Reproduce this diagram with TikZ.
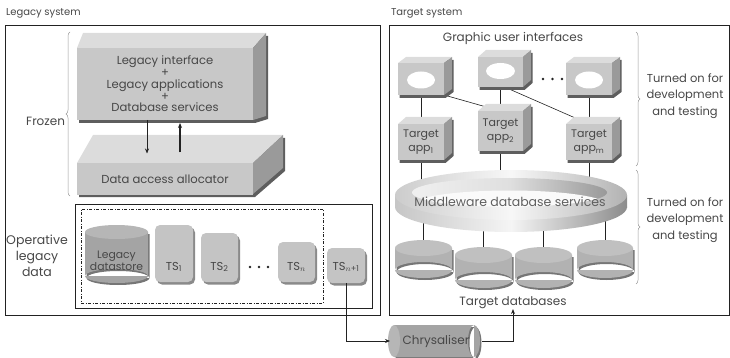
\documentclass[tikz,border=0pt]{standalone}
\usepackage{fontspec}
\setmainfont{Poppins}
\usetikzlibrary{arrows.meta,decorations.pathreplacing,backgrounds}
\definecolor{frontc}{HTML}{C8C8C8}
\definecolor{topc}{HTML}{DCDCDC}
\definecolor{sidec}{HTML}{9A9A9A}
\definecolor{shadc}{HTML}{5E5E5E}
\definecolor{tsc}{HTML}{C4C4C4}
\definecolor{tsshad}{HTML}{8A8A8A}
\definecolor{dbbody}{HTML}{B2B2B2}
\definecolor{dbtop}{HTML}{C0C0C0}
\definecolor{ldsbody}{HTML}{A4A4A4}
\definecolor{ldstop}{HTML}{B6B6B6}
\definecolor{txt}{HTML}{474747}
\definecolor{linec}{HTML}{222222}
\newcommand\tdbox[8]{%
  \pgfmathsetmacro\bxA{#2-#4/2}\pgfmathsetmacro\bxB{#2+#4/2}%
  \pgfmathsetmacro\byA{#3-#5/2}\pgfmathsetmacro\byB{#3+#5/2}%
  \pgfmathsetmacro\bxC{\bxA+#6}\pgfmathsetmacro\bxD{\bxB+#6}%
  \pgfmathsetmacro\byC{\byA-#7}\pgfmathsetmacro\byD{\byB-#7}%
  \fill[shadc,shift={(1.5,3)}] (\bxA,\byB) -- (\bxA,\byA) -- (\bxC,\byC) -- (\bxD,\byC) -- (\bxD,\byD) -- (\bxB,\byB) -- cycle;
  \fill[topc] (\bxA,\byA) -- (\bxC,\byC) -- (\bxD,\byC) -- (\bxB,\byA) -- cycle;
  \fill[sidec] (\bxB,\byA) -- (\bxD,\byC) -- (\bxD,\byD) -- (\bxB,\byB) -- cycle;
  \node[facebox, minimum width=#4pt, minimum height=#5pt] (#1) at (#2,#3) {#8};
}
\newcommand\vcyl[9]{%
  \pgfmathsetmacro\cyX{(#2+#3)/2}\pgfmathsetmacro\cyR{(#3-#2)/2}%
  \pgfmathsetmacro\cyY{(#4+#5)/2}\pgfmathsetmacro\cyW{#3-#2}\pgfmathsetmacro\cyH{#5-#4}%
  \fill[shadc!85] (#2+1.5,#4+#6+2) rectangle (#3+1.5,#5-#6+2) (\cyX+1.5,#5-#6+2) ellipse[x radius=\cyR, y radius=#6];
  \fill[#7] (#2,#4+#6) rectangle (#3,#5-#6) (\cyX,#5-#6) ellipse[x radius=\cyR, y radius=#6];
  \fill[#8] (\cyX,#4+#6) ellipse[x radius=\cyR, y radius=#6];
  \node[facebox, fill=none, minimum width=\cyW pt, minimum height=\cyH pt] (#1) at (\cyX,\cyY) {#9};
}
\newcommand\tsbox[5]{%
  \fill[tsshad, rounded corners=5pt] ({#2-#4/2+2},{#3-#5/2+2.5}) rectangle ({#2+#4/2+2},{#3+#5/2+2.5});
  \node[tsnode, minimum width=#4pt, minimum height=#5pt] (#1) at (#2,#3) {};
}
\begin{document}
\begin{tikzpicture}[x=1pt,y=-1pt,
  lbl/.style={text=txt, font=\fontsize{10}{12}\selectfont, inner sep=0pt, outer sep=0pt},
  facebox/.style={fill=frontc, inner sep=0pt, outer sep=0pt, text=txt, align=center,
    font=\fontsize{11}{14}\selectfont},
  tsnode/.style={fill=tsc, rounded corners=5pt, inner sep=0pt, outer sep=0pt},
  frame/.style={draw=linec, line width=0.9pt, inner sep=0pt, outer sep=0pt, anchor=north west},
  brc/.style={draw=gray!80, line width=0.5pt, decorate, decoration={brace, amplitude=4pt}},
  arr/.style={draw=linec, line width=0.8pt, -{Stealth[length=5pt,width=4pt]}},
  conn/.style={draw=linec, line width=0.8pt}]
\useasboundingbox (0,0) rectangle (730,358);

% titles and frames
\node[lbl, anchor=west] (ltitle) at (6,13) {Legacy system};
\node[lbl, anchor=west] (rtitle) at (391,13) {Target system};
\node[frame, minimum width=375pt, minimum height=290pt] (lbox) at (5,25) {};
\node[frame, minimum width=340pt, minimum height=290pt] (rbox) at (389,25) {};
\node[frame, minimum width=297pt, minimum height=104pt] (opbox) at (75,204) {};
\node[frame, line width=0.8pt, dash pattern=on 3pt off 1.5pt on 1pt off 1.5pt,
  minimum width=242pt, minimum height=94pt] (dbox) at (81,209) {};

% upper legacy block
\fill[shadc,shift={(2,3)}] (77,120) -- (77,48) -- (83,33) -- (266,33) -- (266,116) -- (253,120) -- cycle;
\fill[topc] (77,48) -- (83,33) -- (266,33) -- (253,48) -- cycle;
\fill[sidec] (253,48) -- (266,33) -- (266,116) -- (253,120) -- cycle;
\node[facebox, minimum width=176pt, minimum height=72pt, font=\fontsize{11.6}{11.8}\selectfont] (li) at (165,84)
  {Legacy interface\\+\\Legacy applications\\+\\Database services};

% lower legacy block
\fill[shadc,shift={(2,3)}] (77,194) -- (77,163) -- (93,135) -- (283,135) -- (283,168) -- (253,194) -- cycle;
\fill[topc] (77,163) -- (93,135) -- (283,135) -- (253,163) -- cycle;
\fill[sidec] (253,163) -- (283,135) -- (283,168) -- (253,194) -- cycle;
\node[facebox, minimum width=176pt, minimum height=31pt, font=\fontsize{11.6}{12}\selectfont] (daa) at (165,179) {Data access allocator};

\draw[arr, line width=0.6pt, shorten >=10pt] ([xshift=-18pt]li.south) -- ([xshift=-18pt]daa.north);
\draw[arr, line width=1.1pt, shorten <=11pt, shorten >=3pt] ([xshift=15pt]daa.north) -- ([xshift=15pt]li.south);

% frozen brace
\draw[brc] (70,196) -- (70,32);
\node[lbl, anchor=east, font=\fontsize{12}{14}\selectfont] (frozen) at (65,121) {Frozen};
\node[lbl, align=center, font=\fontsize{12.5}{16}\selectfont] (opl) at (37,256) {Operative\\legacy\\data};

% legacy data stores
\vcyl{lds}{85}{148}{225}{283}{7}{ldsbody}{ldstop}{}
\node[lbl, align=center, font=\fontsize{10.8}{12.5}\selectfont] (ldstxt) at (116.5,261) {Legacy\\datastore};
\tsbox{ts1}{174}{253.5}{38}{57}
\tsbox{ts2}{219.5}{257.5}{37}{49}
\tsbox{tsn}{296.5}{262}{37}{40}
\tsbox{tsnn}{346}{265.5}{38}{35}
\node[lbl, font=\fontsize{11.5}{12}\selectfont] (ts1t) at ([yshift=15pt]ts1.south) {TS\textsubscript{1}};
\node[lbl, font=\fontsize{11.5}{12}\selectfont] (ts2t) at ([yshift=15pt]ts2.south) {TS\textsubscript{2}};
\node[lbl, font=\fontsize{11.5}{12}\selectfont] (tsnt) at ([yshift=15pt]tsn.south) {TS\textsubscript{$n$}};
\node[lbl, font=\fontsize{11.5}{12}\selectfont] (tsnnt) at ([yshift=16pt]tsnn.south) {TS\textsubscript{$n$+1}};
\foreach \dx in {250,259,268} \fill[linec] (\dx,267) circle[radius=1.3];

% chrysaliser
\fill[shadc!85] (395.5,327) rectangle (475.5,359) (475.5,343) ellipse[x radius=6, y radius=16];
\fill[ldsbody] (394,325) rectangle (474,357) (474,341) ellipse[x radius=6, y radius=16];
\fill[ldstop] (394,341) ellipse[x radius=6, y radius=16];
\node[lbl, minimum width=92pt, minimum height=32pt, font=\fontsize{12}{14}\selectfont] (chry) at (436,341) {Chrysaliser};

% GUI boxes
\node[lbl, font=\fontsize{12}{14}\selectfont] (gui) at (513,38) {Graphic user interfaces};
\tdbox{gui1}{421}{79}{46}{32}{8}{6}{}
\tdbox{gui2}{500.5}{72}{45}{30}{8}{7}{}
\tdbox{gui3}{589}{79}{46}{32}{8}{6}{}
\fill[white] (421,80) ellipse[x radius=14, y radius=8.5];
\fill[white] (500.5,71) ellipse[x radius=14.5, y radius=8];
\fill[white] (589,80) ellipse[x radius=14, y radius=8.5];
\foreach \dx in {543,552.5,562} \fill[linec] (\dx,79) circle[radius=1.3];

% target apps
\tdbox{app1}{421}{142}{46}{36}{8}{7}{Target\\app\textsubscript{1}}
\tdbox{app2}{500.5}{131}{45}{40}{8}{7}{Target\\app\textsubscript{2}}
\tdbox{appm}{589}{142}{46}{36}{8}{7}{Target\\app\textsubscript{m}}

% middleware ring
\shade[left color=gray!45, right color=gray!90, middle color=gray!8] (511,207) ellipse[x radius=116, y radius=25];
\shade[left color=gray!45, right color=gray!90, middle color=gray!8] (395,195) rectangle (627,207);
\shade[left color=gray!40, right color=gray!60, middle color=gray!6] (511,195) ellipse[x radius=116, y radius=25];
\begin{scope}
  \clip (509.5,192.5) ellipse[x radius=97.5, y radius=14.5];
  \shade[left color=gray!12, right color=gray!80, middle color=gray!25] (509.5,192.5) ellipse[x radius=97.5, y radius=14.5];
  \fill[white!96!gray] (509.5,205) ellipse[x radius=97.5, y radius=14.5];
\end{scope}
\node[lbl, text=gray!75!black, font=\fontsize{12.5}{14}\selectfont] (mw) at (510,202) {Middleware database services};

% target databases
\vcyl{db1}{395}{452}{240}{278}{8}{dbbody}{dbtop}{}
\vcyl{db2}{455}{512}{247}{288}{8}{dbbody}{dbtop}{}
\vcyl{db3}{515}{572}{247}{288}{8}{dbbody}{dbtop}{}
\vcyl{db4}{577}{633}{240}{278}{8}{dbbody}{dbtop}{}
\node[lbl, font=\fontsize{12}{14}\selectfont] (tdb) at (513,303) {Target databases};

% right braces and labels
\draw[brc] (636,32) -- (636,166);
\draw[brc] (636,170) -- (636,284);
\node[lbl, align=center, font=\fontsize{11.5}{16.5}\selectfont] (ton1) at (685,96) {Turned on for\\development\\and testing};
\node[lbl, align=center, font=\fontsize{11.5}{16.5}\selectfont] (ton2) at (685,220) {Turned on for\\development\\and testing};

% connectors behind shapes
\begin{scope}[on background layer]
  \draw[conn] (gui1.south) -- (app1.north);
  \draw[conn] (gui2.south) -- (app2.north);
  \draw[conn] (gui3.south) -- (appm.north);
  \draw[conn, line width=0.6pt] (gui1.south east) -- (app2.north);
  \draw[conn, line width=0.6pt] ([xshift=4pt]gui2.south) -- (appm.north);
  \draw[conn] (app1.south) -- (app1.south |- mw.center);
  \draw[conn] (app2.south) -- (app2.south |- mw.center);
  \draw[conn] (appm.south) -- (appm.south |- mw.center);
  \draw[conn] (db1.north |- mw.center) -- (db1.north);
  \draw[conn] (db2.north |- mw.center) -- (db2.north);
  \draw[conn] (db3.north |- mw.center) -- (db3.north);
  \draw[conn] (db4.north |- mw.center) -- (db4.north);
\end{scope}

% chrysaliser connectors
\draw[arr] (tsnn.south) |- (chry.west);
\draw[arr] (chry.east) -| (tdb.south);
\end{tikzpicture}
\end{document}
